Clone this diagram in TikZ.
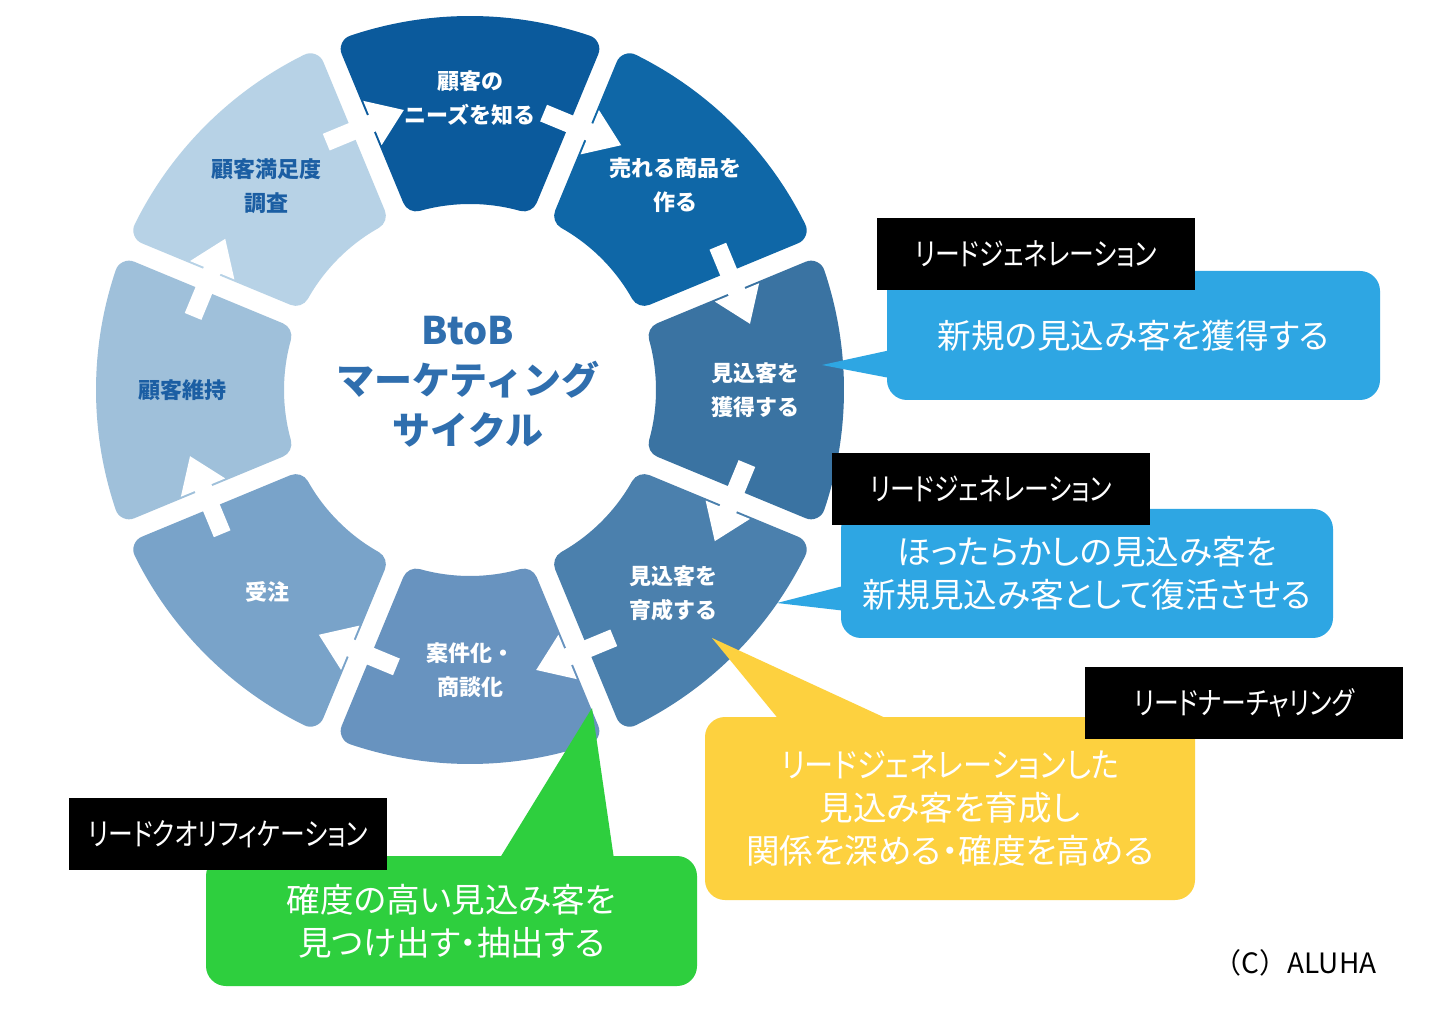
\documentclass[tikz,border=0pt]{standalone}
\usepackage{fontspec}
\setmainfont{Noto Sans CJK JP}
\newfontfamily\callfont[RawFeature=+palt]{Noto Sans CJK JP}
\newfontfamily\narrowfont[RawFeature=+palt, FakeStretch=0.87]{Noto Sans CJK JP}
\newfontfamily\tagfont[RawFeature=+palt, FakeStretch=0.8]{Noto Sans CJK JP}
\usepackage{tikz}

\definecolor{segA}{HTML}{0B5A9C}
\definecolor{segB}{HTML}{0F67A7}
\definecolor{segC}{HTML}{3A73A2}
\definecolor{segD}{HTML}{4B80AD}
\definecolor{segE}{HTML}{6893BF}
\definecolor{segF}{HTML}{79A3C9}
\definecolor{segG}{HTML}{9FC0DA}
\definecolor{segH}{HTML}{B7D2E6}
\definecolor{ringtext}{HTML}{1B5EA3}
\definecolor{titleblue}{HTML}{2F6EAE}
\definecolor{callblue}{HTML}{2EA6E3}
\definecolor{callyellow}{HTML}{FDD13F}
\definecolor{callgreen}{HTML}{2ECF3E}

\tikzset{
	segshape/.style={line width=14pt, line join=round},
	seglabel/.style={align=center, font=\bfseries\fontsize{11pt}{17pt}\selectfont},
	titlelabel/.style={align=center, text=titleblue, font=\bfseries\fontsize{19pt}{25pt}\selectfont},
	tagbox/.style={fill=black, text=white, minimum width=159pt, minimum height=36pt, inner sep=0pt, font=\tagfont\fontsize{15.5pt}{17pt}\selectfont},
	callbox/.style={rounded corners=10pt, text=white, align=center, inner sep=0pt, font=\callfont\fontsize{16.8pt}{21.5pt}\selectfont}
}

\begin{document}
\begin{tikzpicture}[x=0.5pt, y=0.5pt]
	\fill [white] (0,0) rectangle (1438,1012);
	\useasboundingbox (0,0) rectangle (1438,1012);

	\begin{scope}[shift={(470,622)}]
		\foreach \a/\c in {90/segA, 45/segB, 0/segC, -45/segD, -90/segE, -135/segF, 180/segG, 135/segH}
			\filldraw [segshape, fill=\c, draw=\c] (\a+18.68:360) arc [start angle=\a+18.68, end angle=\a-18.68, radius=360]
				-- (\a-15.61:200) arc [start angle=\a-15.61, end angle=\a+15.61, radius=200] -- cycle;

		\foreach \b in {67.5, 22.5, -22.5, -67.5, -112.5, -157.5, 157.5, 112.5}
			\fill [white, shift={(\b:284)}, rotate=\b-90]
				(-38,-9) -- (12,-9) -- (12,-24) -- (46,0) -- (12,24) -- (12,9) -- (-38,9) -- cycle;

		\node (s1) at (90:292) [seglabel, text=white] {顧客の\\ニーズを知る};
		\node (s2) at (45:290) [seglabel, text=white] {売れる商品を\\作る};
		\node (s3) at (0:285) [seglabel, text=white] {見込客を\\獲得する};
		\node (s4) at (-45:288) [seglabel, text=white] {見込客を\\育成する};
		\node (s5) at (-90:280) [seglabel, text=white] {案件化・\\商談化};
		\node (s6) at (-135:286) [seglabel, text=white] {受注};
		\node (s7) at (180:288) [seglabel, text=ringtext] {顧客維持};
		\node (s8) at (135:288) [seglabel, text=ringtext] {顧客満足度\\調査};
	\end{scope}

	\node (title) at (468,630) [titlelabel] {BtoB\\マーケティング\\サイクル};

	\coordinate (tip1) at (822,647);
	\coordinate (tip2) at (777,409);
	\coordinate (tip3) at (712,374);
	\coordinate (tip4) at (592,304);

	\fill [callblue] (tip1) -- (900,664) -- (900,632) -- cycle;
	\fill [callblue] (tip2) -- (855,429) -- (855,400) -- cycle;
	\fill [callyellow] (tip3) -- (785,285) -- (905,285) -- cycle;
	\fill [callgreen] (tip4) -- (495,146) -- (615,146) -- cycle;

	\node (c1) at (1133.5,676.5) [callbox, fill=callblue, minimum width=246.5pt, minimum height=64.5pt] {新規の見込み客を獲得する};
	\node (c2) at (1087,438.5) [callbox, fill=callblue, minimum width=246pt, minimum height=64.5pt] {ほったらかしの見込み客を\\新規見込み客として復活させる};
	\node (c3) at (950,203.5) [callbox, fill=callyellow, minimum width=245pt, minimum height=91.5pt] {{\narrowfont リードジェネレーションした}\\見込み客を育成し\\関係を深める・確度を高める};
	\node (c4) at (451.5,91) [callbox, fill=callgreen, minimum width=245.5pt, minimum height=65pt] {確度の高い見込み客を\\見つけ出す・抽出する};

	\node (t1) at (1036,758) [tagbox] {リードジェネレーション};
	\node (t2) at (991,523) [tagbox] {リードジェネレーション};
	\node (t3) at (1244,309) [tagbox] {リードナーチャリング};
	\node (t4) at (228,178) [tagbox] {リードクオリフィケーション};

	\node (copy) at (1295,49) [font=\fontsize{14pt}{16pt}\selectfont] {（C）ALUHA};
\end{tikzpicture}
\end{document}
